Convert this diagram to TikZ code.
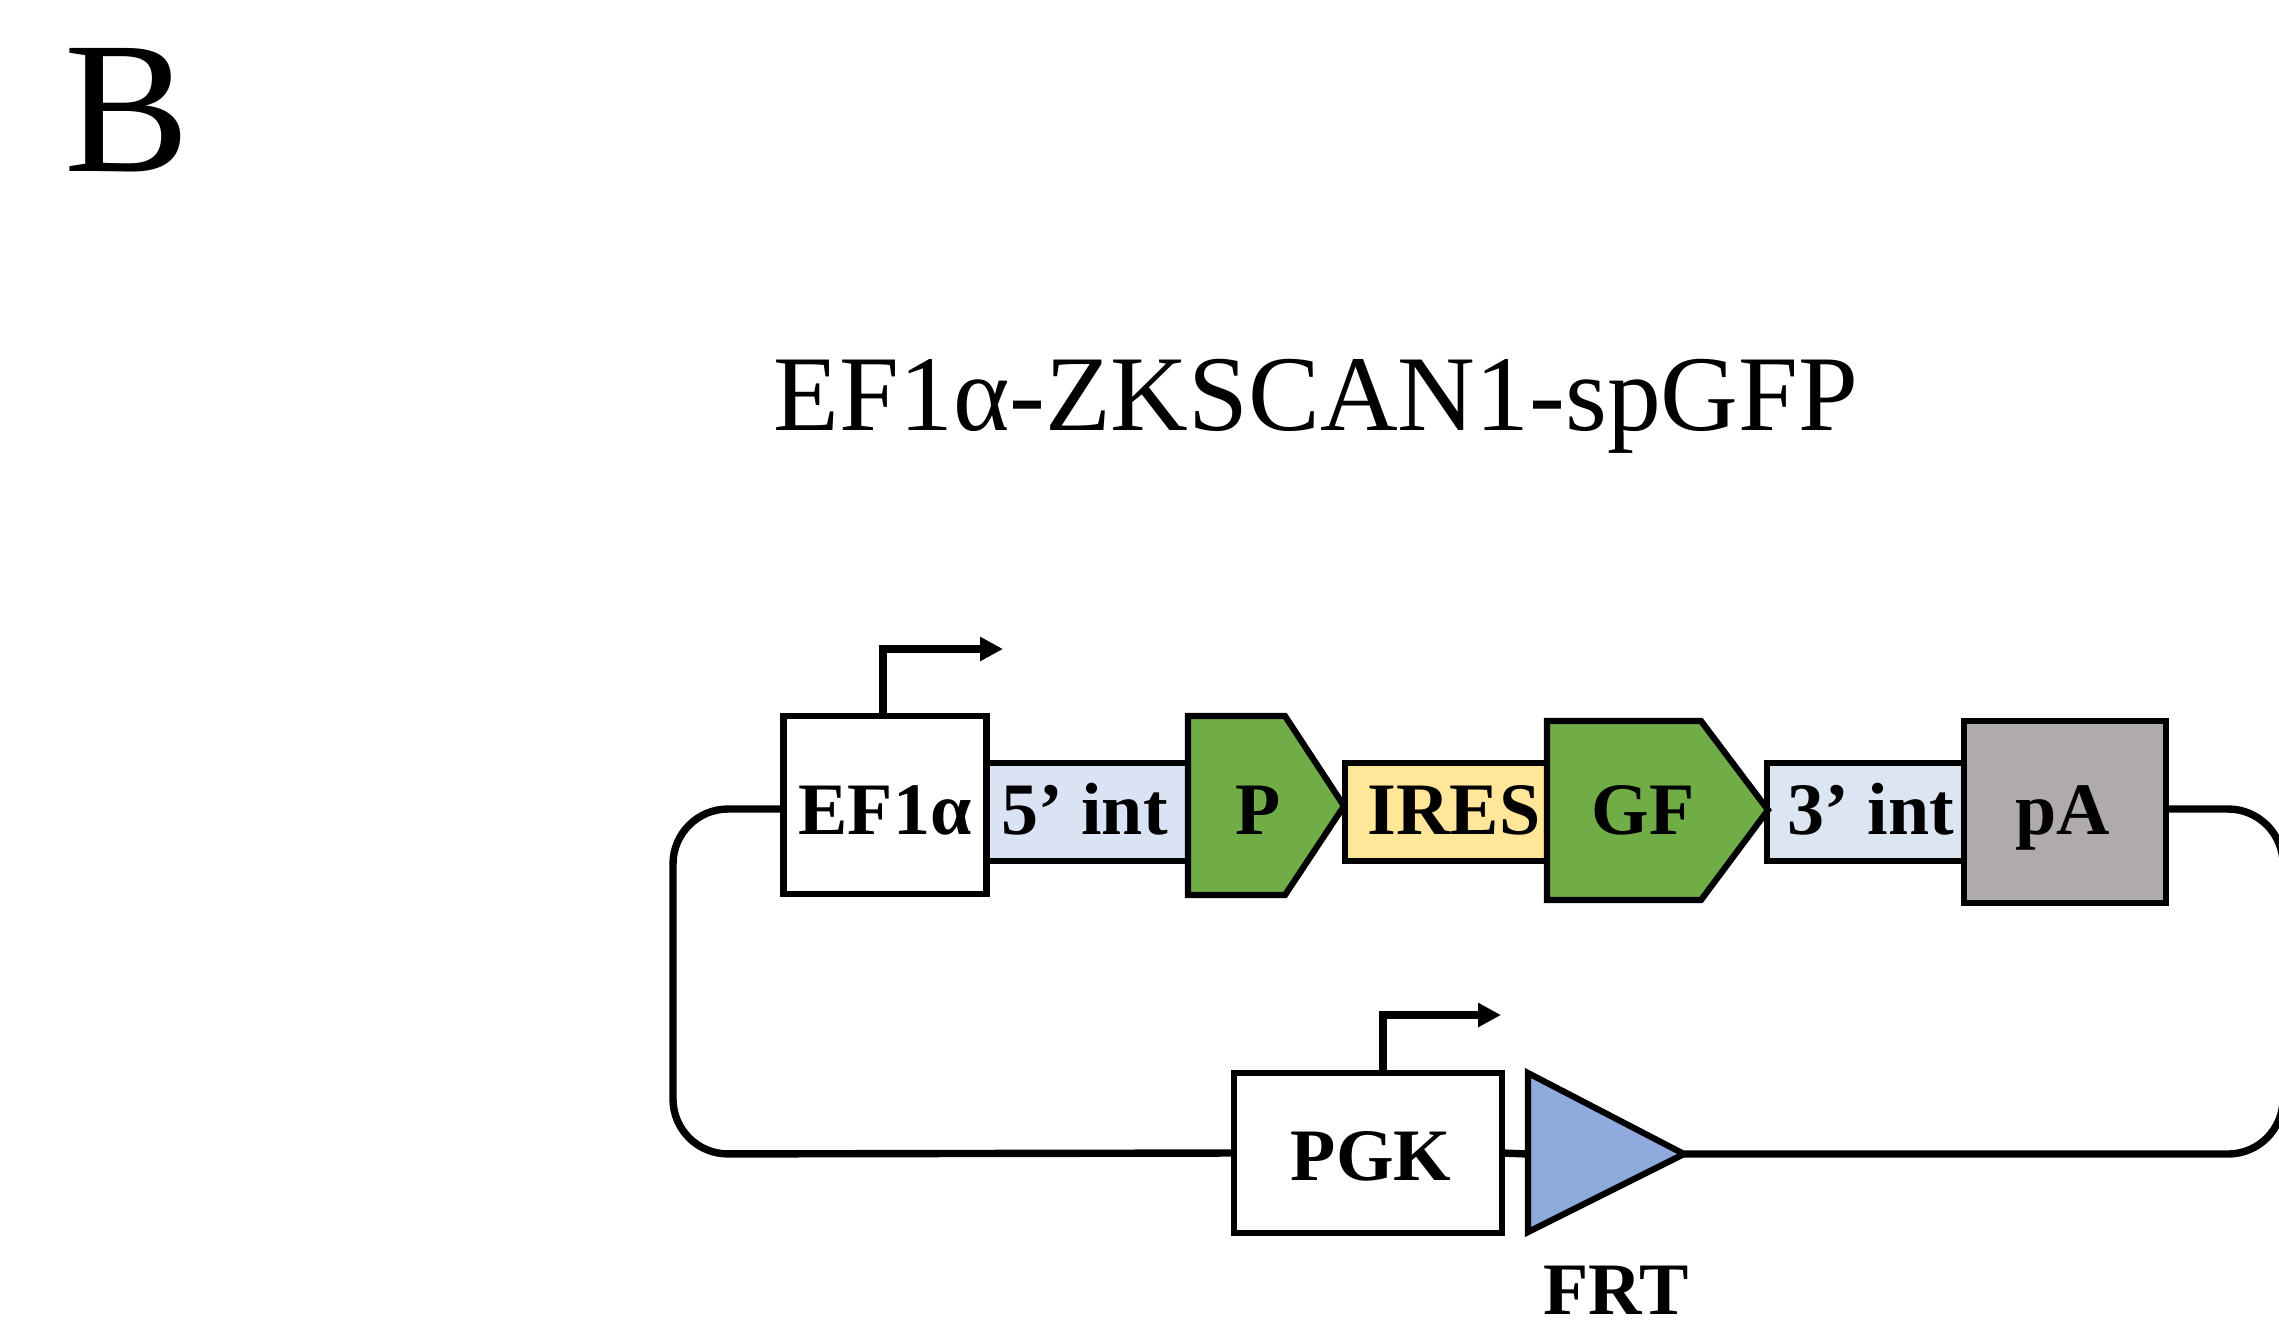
\documentclass[tikz,border=0pt]{standalone}
\usepackage{fontspec}
\setmainfont{Liberation Serif}
\usetikzlibrary{arrows.meta,positioning}
\definecolor{intfive}{HTML}{DAE3F3}
\definecolor{intthree}{HTML}{DCE6F2}
\definecolor{iresfill}{HTML}{FFE699}
\definecolor{genefill}{HTML}{70AD47}
\definecolor{pafill}{HTML}{AFABAB}
\definecolor{frtfill}{HTML}{8FAADC}
\newcommand{\nudge}[3]{\raisebox{#2}{\hspace*{#1}#3}}

\begin{document}
\begin{tikzpicture}[
  x=0.5pt,y=-0.5pt,
  box/.style={draw,line width=3.1pt,outer sep=0pt,inner sep=0pt,text height=25pt,text depth=0pt,
    font=\fontsize{37}{37}\selectfont\bfseries},
  gene/.style={draw,line width=3.1pt,fill=genefill,line join=miter},
  lab/.style={inner sep=0pt,text height=25pt,text depth=0pt,font=\fontsize{37}{37}\selectfont\bfseries},
  wire/.style={line width=3.7pt,rounded corners=27.5pt},
  tss/.style={line width=3.7pt,-{Triangle[length=11.5pt,width=11.5pt]}}
]
\clip (0,0) rectangle (2279,1329);
\node[inner sep=0pt,anchor=base west,font=\fontsize{94}{94}\selectfont] (panel) at (64,171) {B};
\node[inner sep=0pt,anchor=base,font=\fontsize{53.8}{54}\selectfont] (title) at (1316,430) {EF1α-ZKSCAN1-spGFP};
% backbone
\coordinate (lft) at (673,1154);
\coordinate (rgt) at (2283,1154);
\coordinate (frtbase) at (1528,1154);
\coordinate (frttip) at (1684,1154);
% top row
\node[box,minimum width=101.5pt,minimum height=89pt] (ef) at (885,805) {\nudge{0pt}{-2pt}{EF1α}};
\node[box,right=0pt of ef,yshift=-3.5pt,fill=intfive,minimum width=101pt,minimum height=49pt] (five) {\nudge{0pt}{1.5pt}{\hspace*{-3pt}5’ int}};
\node[box,fill=iresfill,minimum width=101pt,minimum height=49pt] (ires) at (1446,812) {\nudge{8pt}{1.5pt}{IRES}};
\node[box,fill=intthree,minimum width=98.5pt,minimum height=49pt] (three) at (1865.5,812) {\nudge{5.5pt}{1.5pt}{3’ int}};
\node[box,right=0pt of three,fill=pafill,minimum width=101pt,minimum height=91pt] (pa) {\nudge{-2pt}{1.5pt}{pA}};
\draw[gene] (1188,716) -- (1285,716) -- (1344,806) -- (1285,895) -- (1188,895) -- cycle;
\node[lab] (p) at (1258,809) {P};
\draw[gene] (1547,721) -- (1701,721) -- (1768,810) -- (1701,900) -- (1547,900) -- cycle;
\node[lab] (gf) at (1643,809) {GF};
% bottom row
\node[box,minimum width=134pt,minimum height=80pt] (pgk) at (1368,1153) {\nudge{3pt}{-1pt}{PGK}};
\draw[wire] ([yshift=-2pt]ef.west) -| (lft) -- (pgk.west);
\draw[wire] ([yshift=1.5pt]pa.east) -| (rgt) -- (frttip);
\draw[line width=3.7pt] (pgk.east) -- (frtbase);
\draw[line width=3.1pt,fill=frtfill] (1528,1073) -- (frttip) -- (1528,1232) -- cycle;
\node[lab] (frt) at (1616,1289) {FRT};
% promoter arrows
\draw[tss] ([xshift=-1pt]ef.north) |- ++(120,-67);
\draw[tss] ([xshift=7.5pt]pgk.north) |- ++(118,-58);
\end{tikzpicture}
\end{document}
